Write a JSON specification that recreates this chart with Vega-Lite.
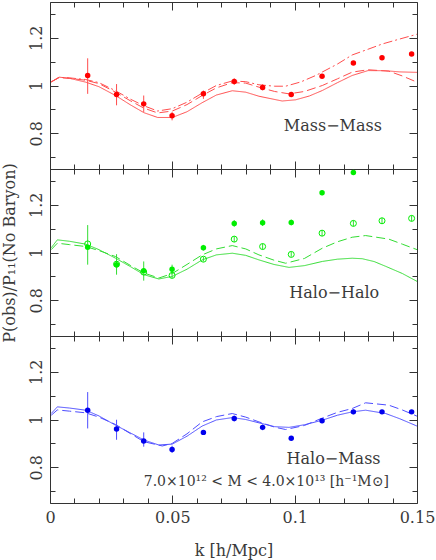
{
  "$schema": "https://vega.github.io/schema/vega-lite/v6.json",
  "padding": {"left": 0, "right": 3, "top": 1, "bottom": 4},
  "spacing": 0,
  "bounds": "flush",
  "config": {
    "view": {"stroke": "#333333", "strokeWidth": 1},
    "concat": {"spacing": 0},
    "font": "DejaVu Serif",
    "axis": {
      "domain": false, "grid": false, "labelFont": "DejaVu Serif", "labelFontSize": 16,
      "labelColor": "#3a3a3a", "tickColor": "#333333", "titleFont": "DejaVu Serif",
      "titleFontSize": 16, "titleFontWeight": "normal", "titleColor": "#3a3a3a",
      "labelOverlap": false, "labelFlush": false, "labelBound": false
    }
  },
  "datasets": {
    "pts": [
      {"panel": "MM", "kind": "filled", "k": 0.0154, "r": 1.042, "lo": 0.965, "hi": 1.114},
      {"panel": "MM", "kind": "filled", "k": 0.0272, "r": 0.9625, "lo": 0.917, "hi": 1.006},
      {"panel": "MM", "kind": "filled", "k": 0.0383, "r": 0.923, "lo": 0.889, "hi": 0.958},
      {"panel": "MM", "kind": "filled", "k": 0.0499, "r": 0.873, "lo": 0.854, "hi": 0.889},
      {"panel": "MM", "kind": "filled", "k": 0.0627, "r": 0.965, "lo": 0.944, "hi": 0.979},
      {"panel": "MM", "kind": "filled", "k": 0.0753, "r": 1.017, "lo": 1.003, "hi": 1.03},
      {"panel": "MM", "kind": "filled", "k": 0.0869, "r": 0.992, "lo": 0.98, "hi": 1.005},
      {"panel": "MM", "kind": "filled", "k": 0.0986, "r": 0.9625, "lo": 0.955, "hi": 0.97},
      {"panel": "MM", "kind": "filled", "k": 0.1112, "r": 1.039, "lo": 1.032, "hi": 1.046},
      {"panel": "MM", "kind": "filled", "k": 0.124, "r": 1.094, "lo": 1.087, "hi": 1.101},
      {"panel": "MM", "kind": "filled", "k": 0.1357, "r": 1.116, "lo": 1.11, "hi": 1.122},
      {"panel": "MM", "kind": "filled", "k": 0.1478, "r": 1.132, "lo": 1.126, "hi": 1.138},
      {"panel": "HH", "kind": "open", "k": 0.0154, "r": 1.036, "lo": 0.949, "hi": 1.115},
      {"panel": "HH", "kind": "open", "k": 0.0272, "r": 0.951, "lo": 0.907, "hi": 0.993},
      {"panel": "HH", "kind": "open", "k": 0.0383, "r": 0.918, "lo": 0.882, "hi": 0.9625},
      {"panel": "HH", "kind": "open", "k": 0.0499, "r": 0.904, "lo": 0.893, "hi": 0.949},
      {"panel": "HH", "kind": "open", "k": 0.0627, "r": 0.972, "lo": 0.962, "hi": 0.982},
      {"panel": "HH", "kind": "open", "k": 0.0753, "r": 1.056, "lo": 1.044, "hi": 1.068},
      {"panel": "HH", "kind": "open", "k": 0.0869, "r": 1.025, "lo": 1.013, "hi": 1.037},
      {"panel": "HH", "kind": "open", "k": 0.0986, "r": 0.992, "lo": 0.982, "hi": 1.002},
      {"panel": "HH", "kind": "open", "k": 0.1112, "r": 1.081, "lo": 1.069, "hi": 1.093},
      {"panel": "HH", "kind": "open", "k": 0.124, "r": 1.122, "lo": 1.11, "hi": 1.134},
      {"panel": "HH", "kind": "open", "k": 0.1357, "r": 1.133, "lo": 1.121, "hi": 1.145},
      {"panel": "HH", "kind": "open", "k": 0.1478, "r": 1.143, "lo": 1.131, "hi": 1.155},
      {"panel": "HH", "kind": "filled", "k": 0.0154, "r": 1.022, "lo": 1.022, "hi": 1.022},
      {"panel": "HH", "kind": "filled", "k": 0.0272, "r": 0.949, "lo": 0.949, "hi": 0.949},
      {"panel": "HH", "kind": "filled", "k": 0.0383, "r": 0.924, "lo": 0.924, "hi": 0.924},
      {"panel": "HH", "kind": "filled", "k": 0.0499, "r": 0.93, "lo": 0.93, "hi": 0.93},
      {"panel": "HH", "kind": "filled", "k": 0.0627, "r": 1.02, "lo": 1.008, "hi": 1.032},
      {"panel": "HH", "kind": "filled", "k": 0.0753, "r": 1.122, "lo": 1.108, "hi": 1.136},
      {"panel": "HH", "kind": "filled", "k": 0.0869, "r": 1.125, "lo": 1.111, "hi": 1.139},
      {"panel": "HH", "kind": "filled", "k": 0.0986, "r": 1.126, "lo": 1.114, "hi": 1.138},
      {"panel": "HH", "kind": "filled", "k": 0.1112, "r": 1.25, "lo": 1.24, "hi": 1.26},
      {"panel": "HH", "kind": "filled", "k": 0.124, "r": 1.335, "lo": 1.325, "hi": 1.345},
      {"panel": "HM", "kind": "filled", "k": 0.0154, "r": 1.039, "lo": 0.9625, "hi": 1.115},
      {"panel": "HM", "kind": "filled", "k": 0.0272, "r": 0.96, "lo": 0.915, "hi": 0.999},
      {"panel": "HM", "kind": "filled", "k": 0.0383, "r": 0.91, "lo": 0.886, "hi": 0.946},
      {"panel": "HM", "kind": "filled", "k": 0.0499, "r": 0.874, "lo": 0.86, "hi": 0.89},
      {"panel": "HM", "kind": "filled", "k": 0.0627, "r": 0.946, "lo": 0.936, "hi": 0.956},
      {"panel": "HM", "kind": "filled", "k": 0.0753, "r": 1.004, "lo": 0.992, "hi": 1.016},
      {"panel": "HM", "kind": "filled", "k": 0.0869, "r": 0.967, "lo": 0.955, "hi": 0.979},
      {"panel": "HM", "kind": "filled", "k": 0.0986, "r": 0.921, "lo": 0.913, "hi": 0.929},
      {"panel": "HM", "kind": "filled", "k": 0.1112, "r": 0.995, "lo": 0.985, "hi": 1.005},
      {"panel": "HM", "kind": "filled", "k": 0.124, "r": 1.032, "lo": 1.022, "hi": 1.042},
      {"panel": "HM", "kind": "filled", "k": 0.1357, "r": 1.032, "lo": 1.024, "hi": 1.04},
      {"panel": "HM", "kind": "filled", "k": 0.1478, "r": 1.032, "lo": 1.024, "hi": 1.04}
    ],
    "lines": [
      {"panel": "MM", "model": "solid", "k": 0.0005, "r": 1.015},
      {"panel": "MM", "model": "solid", "k": 0.0037, "r": 1.035},
      {"panel": "MM", "model": "solid", "k": 0.008, "r": 1.03},
      {"panel": "MM", "model": "solid", "k": 0.0146, "r": 1.014},
      {"panel": "MM", "model": "solid", "k": 0.02, "r": 0.995},
      {"panel": "MM", "model": "solid", "k": 0.0268, "r": 0.958},
      {"panel": "MM", "model": "solid", "k": 0.033, "r": 0.918},
      {"panel": "MM", "model": "solid", "k": 0.0384, "r": 0.886},
      {"panel": "MM", "model": "solid", "k": 0.044, "r": 0.866},
      {"panel": "MM", "model": "solid", "k": 0.05, "r": 0.866},
      {"panel": "MM", "model": "solid", "k": 0.056, "r": 0.89},
      {"panel": "MM", "model": "solid", "k": 0.0622, "r": 0.928},
      {"panel": "MM", "model": "solid", "k": 0.068, "r": 0.96},
      {"panel": "MM", "model": "solid", "k": 0.0745, "r": 0.978},
      {"panel": "MM", "model": "solid", "k": 0.08, "r": 0.972},
      {"panel": "MM", "model": "solid", "k": 0.0854, "r": 0.955},
      {"panel": "MM", "model": "solid", "k": 0.0949, "r": 0.935},
      {"panel": "MM", "model": "solid", "k": 0.1004, "r": 0.94},
      {"panel": "MM", "model": "solid", "k": 0.106, "r": 0.956},
      {"panel": "MM", "model": "solid", "k": 0.1113, "r": 0.979},
      {"panel": "MM", "model": "solid", "k": 0.1175, "r": 1.012},
      {"panel": "MM", "model": "solid", "k": 0.1235, "r": 1.042},
      {"panel": "MM", "model": "solid", "k": 0.13, "r": 1.0625},
      {"panel": "MM", "model": "solid", "k": 0.137, "r": 1.062},
      {"panel": "MM", "model": "solid", "k": 0.143, "r": 1.057},
      {"panel": "MM", "model": "solid", "k": 0.15, "r": 1.055},
      {"panel": "MM", "model": "dashed", "k": 0.0005, "r": 1.015},
      {"panel": "MM", "model": "dashed", "k": 0.0037, "r": 1.033},
      {"panel": "MM", "model": "dashed", "k": 0.008, "r": 1.03},
      {"panel": "MM", "model": "dashed", "k": 0.0146, "r": 1.022},
      {"panel": "MM", "model": "dashed", "k": 0.02, "r": 1.008},
      {"panel": "MM", "model": "dashed", "k": 0.0268, "r": 0.972},
      {"panel": "MM", "model": "dashed", "k": 0.033, "r": 0.935},
      {"panel": "MM", "model": "dashed", "k": 0.0384, "r": 0.905},
      {"panel": "MM", "model": "dashed", "k": 0.044, "r": 0.885},
      {"panel": "MM", "model": "dashed", "k": 0.05, "r": 0.893},
      {"panel": "MM", "model": "dashed", "k": 0.056, "r": 0.92},
      {"panel": "MM", "model": "dashed", "k": 0.0622, "r": 0.958},
      {"panel": "MM", "model": "dashed", "k": 0.068, "r": 0.99},
      {"panel": "MM", "model": "dashed", "k": 0.0745, "r": 1.012},
      {"panel": "MM", "model": "dashed", "k": 0.08, "r": 1.01},
      {"panel": "MM", "model": "dashed", "k": 0.0854, "r": 0.993},
      {"panel": "MM", "model": "dashed", "k": 0.0918, "r": 0.975},
      {"panel": "MM", "model": "dashed", "k": 0.0977, "r": 0.965},
      {"panel": "MM", "model": "dashed", "k": 0.104, "r": 0.975},
      {"panel": "MM", "model": "dashed", "k": 0.1113, "r": 1.0},
      {"panel": "MM", "model": "dashed", "k": 0.1175, "r": 1.028},
      {"panel": "MM", "model": "dashed", "k": 0.1235, "r": 1.056},
      {"panel": "MM", "model": "dashed", "k": 0.13, "r": 1.066},
      {"panel": "MM", "model": "dashed", "k": 0.1385, "r": 1.06},
      {"panel": "MM", "model": "dashed", "k": 0.144, "r": 1.04},
      {"panel": "MM", "model": "dashed", "k": 0.15, "r": 1.014},
      {"panel": "MM", "model": "dashdot", "k": 0.0005, "r": 1.015},
      {"panel": "MM", "model": "dashdot", "k": 0.0037, "r": 1.034},
      {"panel": "MM", "model": "dashdot", "k": 0.008, "r": 1.032},
      {"panel": "MM", "model": "dashdot", "k": 0.0146, "r": 1.025},
      {"panel": "MM", "model": "dashdot", "k": 0.02, "r": 1.012},
      {"panel": "MM", "model": "dashdot", "k": 0.0268, "r": 0.978},
      {"panel": "MM", "model": "dashdot", "k": 0.033, "r": 0.942},
      {"panel": "MM", "model": "dashdot", "k": 0.0384, "r": 0.915},
      {"panel": "MM", "model": "dashdot", "k": 0.044, "r": 0.893},
      {"panel": "MM", "model": "dashdot", "k": 0.05, "r": 0.903},
      {"panel": "MM", "model": "dashdot", "k": 0.056, "r": 0.93},
      {"panel": "MM", "model": "dashdot", "k": 0.0622, "r": 0.968},
      {"panel": "MM", "model": "dashdot", "k": 0.068, "r": 1.0},
      {"panel": "MM", "model": "dashdot", "k": 0.0745, "r": 1.019},
      {"panel": "MM", "model": "dashdot", "k": 0.08, "r": 1.016},
      {"panel": "MM", "model": "dashdot", "k": 0.0854, "r": 1.003},
      {"panel": "MM", "model": "dashdot", "k": 0.0918, "r": 0.997},
      {"panel": "MM", "model": "dashdot", "k": 0.0963, "r": 0.997},
      {"panel": "MM", "model": "dashdot", "k": 0.1025, "r": 1.015},
      {"panel": "MM", "model": "dashdot", "k": 0.1086, "r": 1.042},
      {"panel": "MM", "model": "dashdot", "k": 0.1175, "r": 1.09},
      {"panel": "MM", "model": "dashdot", "k": 0.1235, "r": 1.128},
      {"panel": "MM", "model": "dashdot", "k": 0.13, "r": 1.152},
      {"panel": "MM", "model": "dashdot", "k": 0.1358, "r": 1.174},
      {"panel": "MM", "model": "dashdot", "k": 0.143, "r": 1.195},
      {"panel": "MM", "model": "dashdot", "k": 0.15, "r": 1.215},
      {"panel": "HH", "model": "solid", "k": 0.0005, "r": 1.02},
      {"panel": "HH", "model": "solid", "k": 0.003, "r": 1.053},
      {"panel": "HH", "model": "solid", "k": 0.008, "r": 1.047},
      {"panel": "HH", "model": "solid", "k": 0.0146, "r": 1.035},
      {"panel": "HH", "model": "solid", "k": 0.02, "r": 1.012},
      {"panel": "HH", "model": "solid", "k": 0.0268, "r": 0.976},
      {"panel": "HH", "model": "solid", "k": 0.033, "r": 0.94},
      {"panel": "HH", "model": "solid", "k": 0.0384, "r": 0.907},
      {"panel": "HH", "model": "solid", "k": 0.0445, "r": 0.889},
      {"panel": "HH", "model": "solid", "k": 0.05, "r": 0.9},
      {"panel": "HH", "model": "solid", "k": 0.056, "r": 0.93},
      {"panel": "HH", "model": "solid", "k": 0.0622, "r": 0.969},
      {"panel": "HH", "model": "solid", "k": 0.068, "r": 0.99},
      {"panel": "HH", "model": "solid", "k": 0.0745, "r": 0.997},
      {"panel": "HH", "model": "solid", "k": 0.08, "r": 0.988},
      {"panel": "HH", "model": "solid", "k": 0.0854, "r": 0.969},
      {"panel": "HH", "model": "solid", "k": 0.0915, "r": 0.95},
      {"panel": "HH", "model": "solid", "k": 0.0977, "r": 0.9375},
      {"panel": "HH", "model": "solid", "k": 0.104, "r": 0.945},
      {"panel": "HH", "model": "solid", "k": 0.1113, "r": 0.9625},
      {"panel": "HH", "model": "solid", "k": 0.1175, "r": 0.972},
      {"panel": "HH", "model": "solid", "k": 0.1235, "r": 0.976},
      {"panel": "HH", "model": "solid", "k": 0.1276, "r": 0.974},
      {"panel": "HH", "model": "solid", "k": 0.1325, "r": 0.962},
      {"panel": "HH", "model": "solid", "k": 0.1372, "r": 0.942},
      {"panel": "HH", "model": "solid", "k": 0.144, "r": 0.912},
      {"panel": "HH", "model": "solid", "k": 0.15, "r": 0.879},
      {"panel": "HH", "model": "dashed", "k": 0.0005, "r": 1.012},
      {"panel": "HH", "model": "dashed", "k": 0.003, "r": 1.039},
      {"panel": "HH", "model": "dashed", "k": 0.008, "r": 1.033},
      {"panel": "HH", "model": "dashed", "k": 0.0146, "r": 1.025},
      {"panel": "HH", "model": "dashed", "k": 0.02, "r": 1.008},
      {"panel": "HH", "model": "dashed", "k": 0.0268, "r": 0.983},
      {"panel": "HH", "model": "dashed", "k": 0.033, "r": 0.945},
      {"panel": "HH", "model": "dashed", "k": 0.0384, "r": 0.914},
      {"panel": "HH", "model": "dashed", "k": 0.0445, "r": 0.893},
      {"panel": "HH", "model": "dashed", "k": 0.05, "r": 0.912},
      {"panel": "HH", "model": "dashed", "k": 0.056, "r": 0.95},
      {"panel": "HH", "model": "dashed", "k": 0.0622, "r": 0.99},
      {"panel": "HH", "model": "dashed", "k": 0.068, "r": 1.015},
      {"panel": "HH", "model": "dashed", "k": 0.0745, "r": 1.029},
      {"panel": "HH", "model": "dashed", "k": 0.08, "r": 1.015},
      {"panel": "HH", "model": "dashed", "k": 0.0854, "r": 0.99},
      {"panel": "HH", "model": "dashed", "k": 0.0915, "r": 0.968},
      {"panel": "HH", "model": "dashed", "k": 0.0963, "r": 0.955},
      {"panel": "HH", "model": "dashed", "k": 0.104, "r": 0.975},
      {"panel": "HH", "model": "dashed", "k": 0.1113, "r": 1.018},
      {"panel": "HH", "model": "dashed", "k": 0.1175, "r": 1.045},
      {"panel": "HH", "model": "dashed", "k": 0.1235, "r": 1.064},
      {"panel": "HH", "model": "dashed", "k": 0.129, "r": 1.071},
      {"panel": "HH", "model": "dashed", "k": 0.1385, "r": 1.056},
      {"panel": "HH", "model": "dashed", "k": 0.144, "r": 1.035},
      {"panel": "HH", "model": "dashed", "k": 0.15, "r": 1.012},
      {"panel": "HM", "model": "solid", "k": 0.0005, "r": 1.025},
      {"panel": "HM", "model": "solid", "k": 0.003, "r": 1.053},
      {"panel": "HM", "model": "solid", "k": 0.008, "r": 1.048},
      {"panel": "HM", "model": "solid", "k": 0.0146, "r": 1.039},
      {"panel": "HM", "model": "solid", "k": 0.02, "r": 1.015},
      {"panel": "HM", "model": "solid", "k": 0.0268, "r": 0.976},
      {"panel": "HM", "model": "solid", "k": 0.033, "r": 0.943},
      {"panel": "HM", "model": "solid", "k": 0.0384, "r": 0.914},
      {"panel": "HM", "model": "solid", "k": 0.0445, "r": 0.893},
      {"panel": "HM", "model": "solid", "k": 0.05, "r": 0.897},
      {"panel": "HM", "model": "solid", "k": 0.056, "r": 0.93},
      {"panel": "HM", "model": "solid", "k": 0.0622, "r": 0.9725},
      {"panel": "HM", "model": "solid", "k": 0.068, "r": 0.998},
      {"panel": "HM", "model": "solid", "k": 0.0745, "r": 1.008},
      {"panel": "HM", "model": "solid", "k": 0.08, "r": 1.0},
      {"panel": "HM", "model": "solid", "k": 0.0854, "r": 0.986},
      {"panel": "HM", "model": "solid", "k": 0.0918, "r": 0.97},
      {"panel": "HM", "model": "solid", "k": 0.0977, "r": 0.967},
      {"panel": "HM", "model": "solid", "k": 0.104, "r": 0.978},
      {"panel": "HM", "model": "solid", "k": 0.1113, "r": 0.997},
      {"panel": "HM", "model": "solid", "k": 0.1175, "r": 1.018},
      {"panel": "HM", "model": "solid", "k": 0.1235, "r": 1.032},
      {"panel": "HM", "model": "solid", "k": 0.129, "r": 1.039},
      {"panel": "HM", "model": "solid", "k": 0.1372, "r": 1.025},
      {"panel": "HM", "model": "solid", "k": 0.143, "r": 1.003},
      {"panel": "HM", "model": "solid", "k": 0.15, "r": 0.9725},
      {"panel": "HM", "model": "dashed", "k": 0.0005, "r": 1.018},
      {"panel": "HM", "model": "dashed", "k": 0.003, "r": 1.04},
      {"panel": "HM", "model": "dashed", "k": 0.008, "r": 1.035},
      {"panel": "HM", "model": "dashed", "k": 0.0146, "r": 1.028},
      {"panel": "HM", "model": "dashed", "k": 0.02, "r": 1.01},
      {"panel": "HM", "model": "dashed", "k": 0.0268, "r": 0.979},
      {"panel": "HM", "model": "dashed", "k": 0.033, "r": 0.94},
      {"panel": "HM", "model": "dashed", "k": 0.0384, "r": 0.907},
      {"panel": "HM", "model": "dashed", "k": 0.0459, "r": 0.889},
      {"panel": "HM", "model": "dashed", "k": 0.05, "r": 0.9},
      {"panel": "HM", "model": "dashed", "k": 0.056, "r": 0.94},
      {"panel": "HM", "model": "dashed", "k": 0.0622, "r": 0.99},
      {"panel": "HM", "model": "dashed", "k": 0.068, "r": 1.012},
      {"panel": "HM", "model": "dashed", "k": 0.0745, "r": 1.025},
      {"panel": "HM", "model": "dashed", "k": 0.08, "r": 1.01},
      {"panel": "HM", "model": "dashed", "k": 0.0854, "r": 0.99},
      {"panel": "HM", "model": "dashed", "k": 0.0918, "r": 0.968},
      {"panel": "HM", "model": "dashed", "k": 0.0963, "r": 0.958},
      {"panel": "HM", "model": "dashed", "k": 0.104, "r": 0.975},
      {"panel": "HM", "model": "dashed", "k": 0.1113, "r": 1.006},
      {"panel": "HM", "model": "dashed", "k": 0.1175, "r": 1.03},
      {"panel": "HM", "model": "dashed", "k": 0.1235, "r": 1.046},
      {"panel": "HM", "model": "dashed", "k": 0.129, "r": 1.07},
      {"panel": "HM", "model": "dashed", "k": 0.1385, "r": 1.06},
      {"panel": "HM", "model": "dashed", "k": 0.144, "r": 1.04},
      {"panel": "HM", "model": "dashed", "k": 0.15, "r": 1.014}
    ]
  },
  "vconcat": [
    {
      "width": 367, "height": 167,
      "layer": [
        {
          "data": {"name": "lines"},
          "transform": [{"filter": "datum.panel == 'MM'"}],
          "mark": {"type": "line", "clip": true, "strokeWidth": 1, "color": "#ff4d4d"},
          "encoding": {
            "x": {"field": "k", "type": "quantitative", "scale": {"domain": [0, 0.15], "nice": false, "zero": false},
              "axis": {"orient": "bottom", "values": [0,0.01,0.02,0.03,0.04,0.05,0.06,0.07,0.08,0.09,0.1,0.11,0.12,0.13,0.14,0.15], "labels": false, "title": null,
                "tickSize": {"condition": {"test": "datum.value == 0 || datum.value == 0.05 || datum.value == 0.1 || datum.value == 0.15", "value": -8}, "value": -5}}},
            "y": {"field": "r", "type": "quantitative", "scale": {"domain": [0.65, 1.35], "nice": false, "zero": false},
              "axis": {"orient": "left", "values": [0.7,0.8,0.9,1,1.1,1.2,1.3], "format": "~g", "title": null, "labelAngle": 270, "labelAlign": "center", "labelBaseline": "bottom", "labelPadding": 14,
                "labelExpr": "datum.value == 0.8 || datum.value == 1 || datum.value == 1.2 ? datum.label : ''",
                "tickSize": {"condition": {"test": "datum.value == 0.8 || datum.value == 1 || datum.value == 1.2", "value": -8}, "value": -5}}},
            "strokeDash": {"field": "model", "type": "nominal", "legend": null,
              "scale": {"domain": ["solid", "dashed", "dashdot"], "range": [[1, 0], [9, 4], [9, 3, 2, 3]]}}
          }
        },
        {
          "data": {"name": "pts"},
          "transform": [{"filter": "datum.panel == 'MM'"}],
          "mark": {"type": "rule", "clip": true, "strokeWidth": 1, "color": "#ff4d4d"},
          "encoding": {
            "x": {"field": "k", "type": "quantitative",
              "axis": {"orient": "top", "values": [0,0.01,0.02,0.03,0.04,0.05,0.06,0.07,0.08,0.09,0.1,0.11,0.12,0.13,0.14,0.15], "labels": false, "title": null,
                "tickSize": {"condition": {"test": "datum.value == 0 || datum.value == 0.05 || datum.value == 0.1 || datum.value == 0.15", "value": -8}, "value": -5}}},
            "y": {"field": "lo", "type": "quantitative",
              "axis": {"orient": "right", "values": [0.7,0.8,0.9,1,1.1,1.2,1.3], "labels": false, "title": null,
                "tickSize": {"condition": {"test": "datum.value == 0.8 || datum.value == 1 || datum.value == 1.2", "value": -8}, "value": -5}}},
            "y2": {"field": "hi"}
          }
        },
        {
          "data": {"name": "pts"},
          "transform": [{"filter": "datum.panel == 'MM'"}],
          "mark": {"type": "circle", "clip": true, "size": 30, "opacity": 1, "color": "#ff0000"},
          "encoding": {
            "x": {"field": "k", "type": "quantitative", "axis": null},
            "y": {"field": "r", "type": "quantitative", "axis": null}
          }
        },
        {
          "data": {"values": [{"k": 0.1156, "r": 0.83, "t": "Mass−Mass"}]},
          "mark": {"type": "text", "fontSize": 16, "font": "DejaVu Serif", "color": "#3a3a3a", "align": "center", "baseline": "middle"},
          "encoding": {
            "x": {"field": "k", "type": "quantitative", "axis": null},
            "y": {"field": "r", "type": "quantitative", "axis": null},
            "text": {"field": "t"}
          }
        }
      ],
      "resolve": {"axis": {"x": "independent", "y": "independent"}}
    },
    {
      "width": 367, "height": 167,
      "layer": [
        {
          "data": {"name": "lines"},
          "transform": [{"filter": "datum.panel == 'HH'"}],
          "mark": {"type": "line", "clip": true, "strokeWidth": 1, "color": "#33dd33"},
          "encoding": {
            "x": {"field": "k", "type": "quantitative", "scale": {"domain": [0, 0.15], "nice": false, "zero": false},
              "axis": {"orient": "bottom", "values": [0,0.01,0.02,0.03,0.04,0.05,0.06,0.07,0.08,0.09,0.1,0.11,0.12,0.13,0.14,0.15], "labels": false, "title": null,
                "tickSize": {"condition": {"test": "datum.value == 0 || datum.value == 0.05 || datum.value == 0.1 || datum.value == 0.15", "value": -8}, "value": -5}}},
            "y": {"field": "r", "type": "quantitative", "scale": {"domain": [0.65, 1.35], "nice": false, "zero": false},
              "axis": {"orient": "left", "values": [0.7,0.8,0.9,1,1.1,1.2,1.3], "format": "~g", "title": "P(obs)/P₁₁(No Baryon)", "titlePadding": 8, "labelAngle": 270, "labelAlign": "center", "labelBaseline": "bottom", "labelPadding": 14,
                "labelExpr": "datum.value == 0.8 || datum.value == 1 || datum.value == 1.2 ? datum.label : ''",
                "tickSize": {"condition": {"test": "datum.value == 0.8 || datum.value == 1 || datum.value == 1.2", "value": -8}, "value": -5}}},
            "strokeDash": {"field": "model", "type": "nominal", "legend": null,
              "scale": {"domain": ["solid", "dashed", "dashdot"], "range": [[1, 0], [9, 4], [9, 3, 2, 3]]}}
          }
        },
        {
          "data": {"name": "pts"},
          "transform": [{"filter": "datum.panel == 'HH'"}],
          "mark": {"type": "rule", "clip": true, "strokeWidth": 1, "color": "#33dd33"},
          "encoding": {
            "x": {"field": "k", "type": "quantitative",
              "axis": {"orient": "top", "values": [0,0.01,0.02,0.03,0.04,0.05,0.06,0.07,0.08,0.09,0.1,0.11,0.12,0.13,0.14,0.15], "labels": false, "title": null,
                "tickSize": {"condition": {"test": "datum.value == 0 || datum.value == 0.05 || datum.value == 0.1 || datum.value == 0.15", "value": -8}, "value": -5}}},
            "y": {"field": "lo", "type": "quantitative",
              "axis": {"orient": "right", "values": [0.7,0.8,0.9,1,1.1,1.2,1.3], "labels": false, "title": null,
                "tickSize": {"condition": {"test": "datum.value == 0.8 || datum.value == 1 || datum.value == 1.2", "value": -8}, "value": -5}}},
            "y2": {"field": "hi"}
          }
        },
        {
          "data": {"name": "pts"},
          "transform": [{"filter": "datum.panel == 'HH' && datum.kind == 'filled'"}],
          "mark": {"type": "circle", "clip": true, "size": 30, "opacity": 1, "color": "#00ee00"},
          "encoding": {
            "x": {"field": "k", "type": "quantitative", "axis": null},
            "y": {"field": "r", "type": "quantitative", "axis": null}
          }
        },
        {
          "data": {"name": "pts"},
          "transform": [{"filter": "datum.panel == 'HH' && datum.kind == 'open'"}],
          "mark": {"type": "point", "shape": "circle", "filled": false, "clip": true, "size": 36, "strokeWidth": 1, "opacity": 1, "color": "#00ee00"},
          "encoding": {
            "x": {"field": "k", "type": "quantitative", "axis": null},
            "y": {"field": "r", "type": "quantitative", "axis": null}
          }
        },
        {
          "data": {"values": [{"k": 0.1162, "r": 0.83, "t": "Halo−Halo"}]},
          "mark": {"type": "text", "fontSize": 16, "font": "DejaVu Serif", "color": "#3a3a3a", "align": "center", "baseline": "middle"},
          "encoding": {
            "x": {"field": "k", "type": "quantitative", "axis": null},
            "y": {"field": "r", "type": "quantitative", "axis": null},
            "text": {"field": "t"}
          }
        }
      ],
      "resolve": {"axis": {"x": "independent", "y": "independent"}}
    },
    {
      "width": 367, "height": 167,
      "layer": [
        {
          "data": {"name": "lines"},
          "transform": [{"filter": "datum.panel == 'HM'"}],
          "mark": {"type": "line", "clip": true, "strokeWidth": 1, "color": "#4d4dff"},
          "encoding": {
            "x": {"field": "k", "type": "quantitative", "scale": {"domain": [0, 0.15], "nice": false, "zero": false},
              "axis": {"orient": "bottom", "values": [0,0.01,0.02,0.03,0.04,0.05,0.06,0.07,0.08,0.09,0.1,0.11,0.12,0.13,0.14,0.15], "format": "~g", "title": "k [h/Mpc]", "titlePadding": 14, "labelPadding": 14,
                "labelExpr": "datum.value == 0 || datum.value == 0.05 || datum.value == 0.1 || datum.value == 0.15 ? datum.label : ''",
                "tickSize": {"condition": {"test": "datum.value == 0 || datum.value == 0.05 || datum.value == 0.1 || datum.value == 0.15", "value": -8}, "value": -5}}},
            "y": {"field": "r", "type": "quantitative", "scale": {"domain": [0.65, 1.35], "nice": false, "zero": false},
              "axis": {"orient": "left", "values": [0.7,0.8,0.9,1,1.1,1.2,1.3], "format": "~g", "title": null, "labelAngle": 270, "labelAlign": "center", "labelBaseline": "bottom", "labelPadding": 14,
                "labelExpr": "datum.value == 0.8 || datum.value == 1 || datum.value == 1.2 ? datum.label : ''",
                "tickSize": {"condition": {"test": "datum.value == 0.8 || datum.value == 1 || datum.value == 1.2", "value": -8}, "value": -5}}},
            "strokeDash": {"field": "model", "type": "nominal", "legend": null,
              "scale": {"domain": ["solid", "dashed", "dashdot"], "range": [[1, 0], [9, 4], [9, 3, 2, 3]]}}
          }
        },
        {
          "data": {"name": "pts"},
          "transform": [{"filter": "datum.panel == 'HM'"}],
          "mark": {"type": "rule", "clip": true, "strokeWidth": 1, "color": "#4d4dff"},
          "encoding": {
            "x": {"field": "k", "type": "quantitative",
              "axis": {"orient": "top", "values": [0,0.01,0.02,0.03,0.04,0.05,0.06,0.07,0.08,0.09,0.1,0.11,0.12,0.13,0.14,0.15], "labels": false, "title": null,
                "tickSize": {"condition": {"test": "datum.value == 0 || datum.value == 0.05 || datum.value == 0.1 || datum.value == 0.15", "value": -8}, "value": -5}}},
            "y": {"field": "lo", "type": "quantitative",
              "axis": {"orient": "right", "values": [0.7,0.8,0.9,1,1.1,1.2,1.3], "labels": false, "title": null,
                "tickSize": {"condition": {"test": "datum.value == 0.8 || datum.value == 1 || datum.value == 1.2", "value": -8}, "value": -5}}},
            "y2": {"field": "hi"}
          }
        },
        {
          "data": {"name": "pts"},
          "transform": [{"filter": "datum.panel == 'HM'"}],
          "mark": {"type": "circle", "clip": true, "size": 30, "opacity": 1, "color": "#0000ee"},
          "encoding": {
            "x": {"field": "k", "type": "quantitative", "axis": null},
            "y": {"field": "r", "type": "quantitative", "axis": null}
          }
        },
        {
          "data": {"values": [
            {"k": 0.1159, "r": 0.833, "t": "Halo−Mass", "s": 16},
            {"k": 0.0884, "r": 0.74, "t": "7.0×10¹² < M < 4.0×10¹³ [h⁻¹M⊙]", "s": 14}
          ]},
          "mark": {"type": "text", "font": "DejaVu Serif", "color": "#3a3a3a", "align": "center", "baseline": "middle"},
          "encoding": {
            "x": {"field": "k", "type": "quantitative", "axis": null},
            "y": {"field": "r", "type": "quantitative", "axis": null},
            "text": {"field": "t"},
            "size": {"field": "s", "type": "quantitative", "scale": null, "legend": null}
          }
        }
      ],
      "resolve": {"axis": {"x": "independent", "y": "independent"}}
    }
  ]
}
